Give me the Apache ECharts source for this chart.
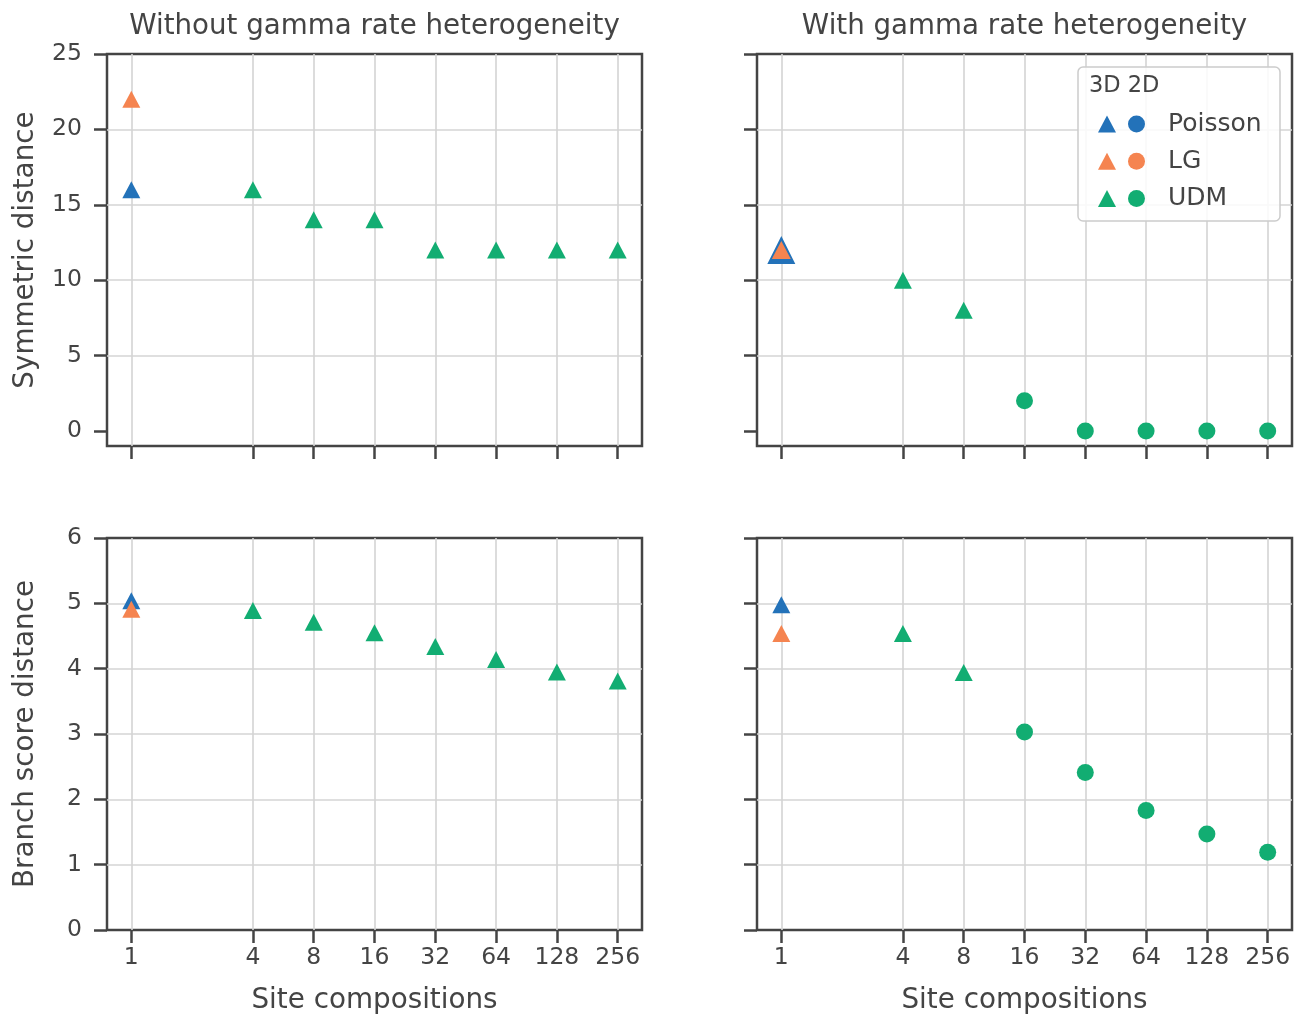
<!DOCTYPE html>
<html>
<head>
<meta charset="utf-8">
<script src="https://cdn.jsdelivr.net/npm/echarts@6/dist/echarts.min.js"></script>
<style>html,body{margin:0;padding:0;background:#fff;}#c{width:1294px;height:1016px;}</style>
</head>
<body>
<div id="c"></div>
<script>
// ---- tick labels ----
const xTicks = [1, 4, 8, 16, 32, 64, 128, 256];
const symTicks = [0, 5, 10, 15, 20, 25];
const bsTicks = [0, 1, 2, 3, 4, 5, 6];

// ---- Symmetric distance, without gamma ----
const symNoG_Poisson3D = [[1, 16]];
const symNoG_LG3D = [[1, 22]];
const symNoG_UDM3D = [[4, 16], [8, 14], [16, 14], [32, 12], [64, 12], [128, 12], [256, 12]];
const symNoG_UDM2D = [];
// ---- Symmetric distance, with gamma ----
const symG_Poisson3D = [[1, 12]];
const symG_LG3D = [[1, 12]];
const symG_UDM3D = [[4, 10], [8, 8]];
const symG_UDM2D = [[16, 2], [32, 0], [64, 0], [128, 0], [256, 0]];
// ---- Branch score distance, without gamma ----
const bsNoG_Poisson3D = [[1, 5.04]];
const bsNoG_LG3D = [[1, 4.91]];
const bsNoG_UDM3D = [[4, 4.89], [8, 4.71], [16, 4.55], [32, 4.34], [64, 4.14], [128, 3.95], [256, 3.81]];
const bsNoG_UDM2D = [];
// ---- Branch score distance, with gamma ----
const bsG_Poisson3D = [[1, 4.98]];
const bsG_LG3D = [[1, 4.54]];
const bsG_UDM3D = [[4, 4.54], [8, 3.94]];
const bsG_UDM2D = [[16, 3.03], [32, 2.41], [64, 1.83], [128, 1.47], [256, 1.19]];

const FONT = 'DejaVu Sans';
const TXT = '#444';
const C = { Poisson: '#2372b9', LG: '#f58450', UDM: '#12ad72' };

const chart = echarts.init(document.getElementById('c'), null, { renderer: 'canvas' });

const grids = [
  { left: 107, top: 54, width: 535, height: 392 },
  { left: 757, top: 54, width: 535, height: 392 },
  { left: 107, top: 538, width: 535, height: 392 },
  { left: 757, top: 538, width: 535, height: 392 }
].map(g => Object.assign(g, { show: true, borderColor: '#444', borderWidth: 2.5, backgroundColor: 'transparent', containLabel: false }));

function mkX(i, labels) {
  return {
    type: 'log', logBase: 2, gridIndex: i,
    min: Math.pow(2, -0.4), max: Math.pow(2, 8.4),
    axisLine: { show: false, onZero: false },
    axisTick: { show: true, length: 13, customValues: xTicks, lineStyle: { color: '#444', width: 2.5 } },
    axisLabel: { show: labels, customValues: xTicks, color: TXT, fontSize: 23.5, fontFamily: FONT, margin: 16 },
    splitLine: { show: true, lineStyle: { color: '#d4d4d4', width: 1.6 } },
    minorTick: { show: false }, minorSplitLine: { show: false },
    name: labels ? 'Site compositions' : '', nameLocation: 'middle', nameGap: 57,
    nameTextStyle: { color: TXT, fontSize: 27.8, fontFamily: FONT }
  };
}
function mkY(i, ticks, min, max, labels, name) {
  return {
    type: 'value', gridIndex: i, min: min, max: max,
    axisLine: { show: false, onZero: false },
    axisTick: { show: true, length: 13, customValues: ticks, lineStyle: { color: '#444', width: 2.5 } },
    axisLabel: { show: labels, customValues: ticks, color: TXT, fontSize: 23.5, fontFamily: FONT, margin: 25 },
    splitLine: { show: true, showMinLine: false, showMaxLine: false, lineStyle: { color: '#d4d4d4', width: 1.6 } },
    name: labels ? name : '', nameLocation: 'middle', nameGap: 67,
    nameTextStyle: { color: TXT, fontSize: 27.8, fontFamily: FONT }
  };
}

function sc(name, idx, data, shape, color, size) {
  return {
    type: 'scatter', name: name, xAxisIndex: idx, yAxisIndex: idx, data: data,
    symbol: shape, symbolSize: size || (shape === 'triangle' ? [18, 17] : 17),
    itemStyle: { color: color, opacity: 1 },
    emphasis: { disabled: true }, animation: false
  };
}

const series = [
  sc('Poisson 3D', 0, symNoG_Poisson3D, 'triangle', C.Poisson),
  sc('LG 3D', 0, symNoG_LG3D, 'triangle', C.LG),
  sc('UDM 3D', 0, symNoG_UDM3D, 'triangle', C.UDM),
  sc('UDM 2D', 0, symNoG_UDM2D, 'circle', C.UDM),
  sc('Poisson 2D', 0, [], 'circle', C.Poisson),
  sc('LG 2D', 0, [], 'circle', C.LG),

  sc('Poisson 3D', 1, symG_Poisson3D, 'triangle', C.Poisson, [28, 28]),
  sc('LG 3D', 1, symG_LG3D, 'triangle', C.LG, [19, 18]),
  sc('UDM 3D', 1, symG_UDM3D, 'triangle', C.UDM),
  sc('UDM 2D', 1, symG_UDM2D, 'circle', C.UDM),

  sc('Poisson 3D', 2, bsNoG_Poisson3D, 'triangle', C.Poisson),
  sc('LG 3D', 2, bsNoG_LG3D, 'triangle', C.LG),
  sc('UDM 3D', 2, bsNoG_UDM3D, 'triangle', C.UDM),
  sc('UDM 2D', 2, bsNoG_UDM2D, 'circle', C.UDM),

  sc('Poisson 3D', 3, bsG_Poisson3D, 'triangle', C.Poisson),
  sc('LG 3D', 3, bsG_LG3D, 'triangle', C.LG),
  sc('UDM 3D', 3, bsG_UDM3D, 'triangle', C.UDM),
  sc('UDM 2D', 3, bsG_UDM2D, 'circle', C.UDM)
];

const option = {
  backgroundColor: '#ffffff',
  animation: false,
  grid: grids,
  xAxis: [mkX(0, false), mkX(1, false), mkX(2, true), mkX(3, true)],
  yAxis: [
    mkY(0, symTicks, -1, 25, true, 'Symmetric distance'),
    mkY(1, symTicks, -1, 25, false, ''),
    mkY(2, bsTicks, 0, 6, true, 'Branch score distance'),
    mkY(3, bsTicks, 0, 6, false, '')
  ],
  legend: [
    {
      data: ['Poisson 3D', 'LG 3D', 'UDM 3D'], orient: 'vertical', left: 1098, top: 109, padding: 0,
      icon: 'triangle', itemWidth: 18, itemHeight: 17, itemGap: 7.3, selectedMode: false,
      formatter: function () { return ' '; },
      textStyle: { fontSize: 25, lineHeight: 30, fontFamily: FONT, color: TXT }
    },
    {
      data: ['Poisson 2D', 'LG 2D', 'UDM 2D'], orient: 'vertical', left: 1128, top: 109, padding: 0,
      icon: 'circle', itemWidth: 17, itemHeight: 17, itemGap: 7.3, selectedMode: false,
      formatter: function (n) { return n.split(' ')[0]; },
      textStyle: { fontSize: 25, lineHeight: 30, fontFamily: FONT, color: TXT, padding: [0, 0, 0, 18] }
    }
  ],
  graphic: [
    { type: 'rect', z: 3, shape: { x: 1078, y: 67, width: 202, height: 154, r: 5 },
      style: { fill: 'rgba(255,255,255,0.85)', stroke: '#cccccc', lineWidth: 1.5 } },
    { type: 'text', z: 5, x: 1089, y: 86,
      style: { text: '3D 2D', fontSize: 22.5, fontFamily: FONT, fill: TXT, textAlign: 'left', textVerticalAlign: 'middle' } },
    { type: 'text', z: 5, x: 374.5, y: 27,
      style: { text: 'Without gamma rate heterogeneity', fontSize: 27.7, fontFamily: FONT, fill: TXT, textAlign: 'center', textVerticalAlign: 'middle' } },
    { type: 'text', z: 5, x: 1024.5, y: 27,
      style: { text: 'With gamma rate heterogeneity', fontSize: 27.7, fontFamily: FONT, fill: TXT, textAlign: 'center', textVerticalAlign: 'middle' } }
  ],
  series: series
};
chart.setOption(option);
</script>
</body>
</html>
